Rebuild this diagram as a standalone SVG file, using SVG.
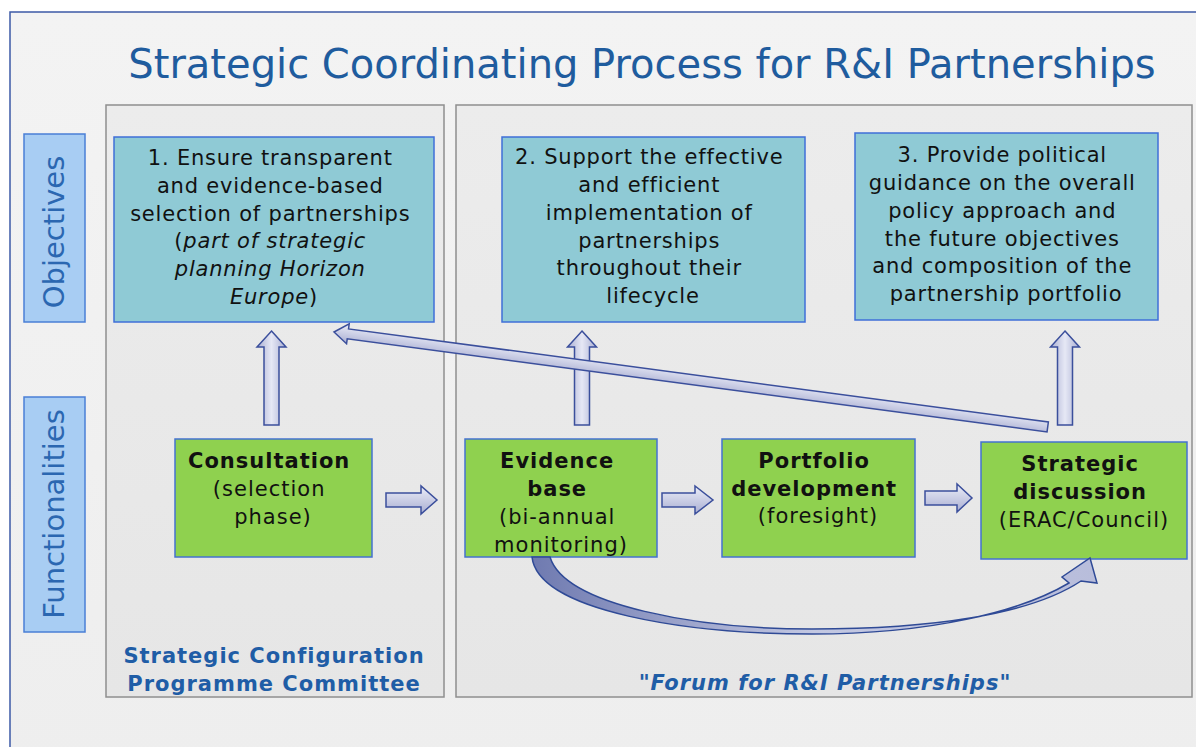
<svg xmlns="http://www.w3.org/2000/svg" width="1196" height="747" viewBox="0 0 1196 747">
<defs>
  <linearGradient id="bg" x1="0" y1="0" x2="0" y2="1">
    <stop offset="0" stop-color="#f3f3f3"/>
    <stop offset="1" stop-color="#eeeeee"/>
  </linearGradient>
  <linearGradient id="panel" x1="0" y1="0" x2="0" y2="1">
    <stop offset="0" stop-color="#ececec"/>
    <stop offset="1" stop-color="#e6e6e6"/>
  </linearGradient>
  <linearGradient id="arrH" x1="0" y1="0" x2="0" y2="1">
    <stop offset="0" stop-color="#eceef8"/>
    <stop offset="1" stop-color="#a9aed2"/>
  </linearGradient>
  <linearGradient id="arrV" x1="0" y1="0" x2="1" y2="0">
    <stop offset="0" stop-color="#a9aed2"/>
    <stop offset="0.5" stop-color="#e6e8f5"/>
    <stop offset="1" stop-color="#a9aed2"/>
  </linearGradient>
  <linearGradient id="curve" x1="0" y1="0" x2="1" y2="0">
    <stop offset="0" stop-color="#6f7ab0"/>
    <stop offset="0.5" stop-color="#c3c8e2"/>
    <stop offset="1" stop-color="#b8bddb"/>
  </linearGradient>
  <style>
    .panel{fill:url(#panel);stroke:#8f8f8f;stroke-width:1.5}
    .lab{fill:#a8cdf3;stroke:#4a7fd6;stroke-width:1.5}
    .labt{font-family:"DejaVu Sans","Verdana",sans-serif;font-size:29px;fill:#2b67b1;text-anchor:middle}
    .obj{fill:#8fcad5;stroke:#3f6fd8;stroke-width:1.5}
    .objt{font-family:"DejaVu Sans","Verdana",sans-serif;font-size:21px;letter-spacing:0.8px;fill:#111;text-anchor:middle}
    .fn{fill:#8fd14f;stroke:#4472d0;stroke-width:1.5}
    .fnt{font-family:"DejaVu Sans","Verdana",sans-serif;font-size:21px;letter-spacing:1px;fill:#111;text-anchor:middle}
    .b{font-weight:bold}
    .arH{fill:url(#arrH);stroke:#3b4f9c;stroke-width:1.5;stroke-linejoin:miter}
    .arV{fill:url(#arrV);stroke:#3b4f9c;stroke-width:1.5;stroke-linejoin:miter}
    .cap{font-family:"DejaVu Sans","Verdana",sans-serif;font-size:21px;letter-spacing:1px;font-weight:bold;fill:#1f5da6;text-anchor:middle}
  </style>
</defs>

<rect x="0" y="0" width="1196" height="747" fill="#ffffff"/>
<rect id="frame" x="10" y="12" width="1200" height="750" fill="url(#bg)" stroke="#3d5aa6" stroke-width="1.5"/>

<text id="title" x="642" y="78" font-family="'DejaVu Sans','Verdana',sans-serif" font-size="40" fill="#1f5c9e" text-anchor="middle">Strategic Coordinating Process for R&amp;I Partnerships</text>

<g id="panel-left">
  <rect class="panel" x="106" y="105" width="338" height="592"/>
  <text class="cap" x="274" y="663">Strategic Configuration</text>
  <text class="cap" x="274" y="691">Programme Committee</text>
</g>
<g id="panel-right">
  <rect class="panel" x="456" y="105" width="736" height="592"/>
  <text class="cap" x="825" y="690" font-style="italic" letter-spacing="1.2">"Forum for R&amp;I Partnerships"</text>
</g>

<g id="label-objectives">
  <rect class="lab" x="24" y="134" width="61" height="188"/>
  <text class="labt" transform="translate(64,232) rotate(-90)">Objectives</text>
</g>
<g id="label-functionalities">
  <rect class="lab" x="24" y="397" width="61" height="235"/>
  <text class="labt" transform="translate(64,514) rotate(-90)">Functionalities</text>
</g>

<g id="obj1">
  <rect class="obj" x="114" y="137" width="320" height="185"/>
  <text class="objt">
    <tspan x="274" y="165">1. Ensure transparent</tspan>
    <tspan x="274" y="193">and evidence-based</tspan>
    <tspan x="274" y="221">selection of partnerships</tspan>
    <tspan x="274" y="248">(<tspan font-style="italic">part of strategic</tspan></tspan>
    <tspan x="274" y="276" font-style="italic">planning Horizon</tspan>
    <tspan x="274" y="304"><tspan font-style="italic">Europe</tspan>)</tspan>
  </text>
</g>
<g id="obj2">
  <rect class="obj" x="502" y="137" width="303" height="185"/>
  <text class="objt">
    <tspan x="653" y="164">2. Support the effective</tspan>
    <tspan x="653" y="192">and efficient</tspan>
    <tspan x="653" y="220">implementation of</tspan>
    <tspan x="653" y="248">partnerships</tspan>
    <tspan x="653" y="275">throughout their</tspan>
    <tspan x="653" y="303">lifecycle</tspan>
  </text>
</g>
<g id="obj3">
  <rect class="obj" x="855" y="133" width="303" height="187"/>
  <text class="objt">
    <tspan x="1006" y="162">3. Provide political</tspan>
    <tspan x="1006" y="190">guidance on the overall</tspan>
    <tspan x="1006" y="218">policy approach and</tspan>
    <tspan x="1006" y="246">the future objectives</tspan>
    <tspan x="1006" y="273">and composition of the</tspan>
    <tspan x="1006" y="301">partnership portfolio</tspan>
  </text>
</g>

<g id="fn-consultation">
  <rect class="fn" x="175" y="439" width="197" height="118"/>
  <text class="fnt">
    <tspan class="b" x="273" y="468">Consultation</tspan>
    <tspan x="273" y="496">(selection</tspan>
    <tspan x="273" y="524">phase)</tspan>
  </text>
</g>
<g id="fn-evidence">
  <rect class="fn" x="465" y="439" width="192" height="118"/>
  <text class="fnt">
    <tspan class="b" x="561" y="468">Evidence</tspan>
    <tspan class="b" x="561" y="496">base</tspan>
    <tspan x="561" y="524">(bi-annual</tspan>
    <tspan x="561" y="552">monitoring)</tspan>
  </text>
</g>
<g id="fn-portfolio">
  <rect class="fn" x="722" y="439" width="193" height="118"/>
  <text class="fnt">
    <tspan class="b" x="818" y="468">Portfolio</tspan>
    <tspan class="b" x="818" y="496">development</tspan>
    <tspan x="818" y="523">(foresight)</tspan>
  </text>
</g>
<g id="fn-strategic">
  <rect class="fn" x="981" y="442" width="206" height="117"/>
  <text class="fnt">
    <tspan class="b" x="1084" y="471">Strategic</tspan>
    <tspan class="b" x="1084" y="499">discussion</tspan>
    <tspan x="1084" y="527">(ERAC/Council)</tspan>
  </text>
</g>

<g id="connectors">
  <polygon class="arV" points="271.5,331 286,347 279,347 279,425 264,425 264,347 257,347"/>
  <polygon class="arV" points="582,331 596.5,347 589.5,347 589.5,425 574.5,425 574.5,347 567.5,347"/>
  <polygon class="arV" points="1065,331 1079.5,347 1072.5,347 1072.5,425 1057.5,425 1057.5,347 1050.5,347"/>
  <polygon class="arH" transform="translate(334,332) rotate(7.58)" points="0,0 14,-10 14,-5 720,-5 720,5 14,5 14,10"/>
  <polygon class="arH" points="386,493 421,493 421,486 437,500 421,514 421,507 386,507"/>
  <polygon class="arH" points="662,493 695,493 695,486 713,500 695,514 695,507 662,507"/>
  <polygon class="arH" points="925,491 957,491 957,484 972,498 957,512 957,505 925,505"/>
  <path fill="url(#curve)" stroke="#2f4a96" stroke-width="1.5" stroke-linejoin="miter"
        d="M532,557 C538,612 690,634 812,634 C930,634 1020,612 1069,583 L1062,577 L1090,558 L1097,583 L1081,581 C1030,615 930,629 812,629 C700,629 565,606 550,557 Z"/>
</g>
</svg>
